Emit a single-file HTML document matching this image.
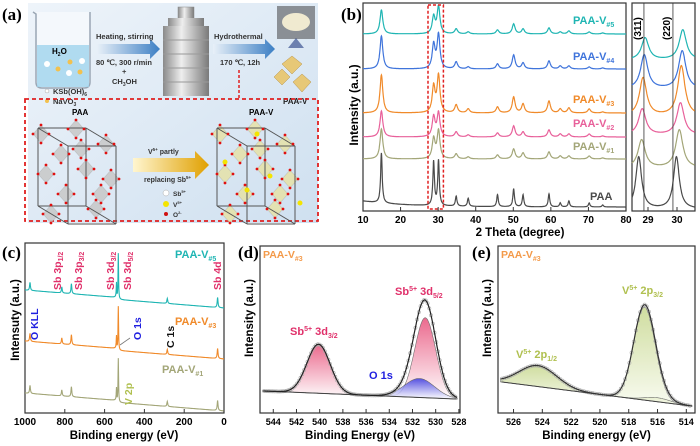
<!DOCTYPE html>
<html><head><meta charset="utf-8">
<style>
html,body{margin:0;padding:0;background:#fff;}
svg{display:block;font-family:"Liberation Sans",sans-serif;}
.t{font-family:"Liberation Sans",sans-serif;font-weight:bold;}
.pl{font-family:"Liberation Serif",serif;font-weight:bold;font-size:17px;}
</style></head>
<body>
<svg id="fig" width="700" height="446" viewBox="0 0 700 446" xmlns="http://www.w3.org/2000/svg">
<defs>
<linearGradient id="bg" x1="0" y1="0" x2="1" y2="1"><stop offset="0" stop-color="#eef4fa"/><stop offset="1" stop-color="#cfe0f0"/></linearGradient>
<linearGradient id="arr" x1="0" y1="0" x2="1" y2="0"><stop offset="0" stop-color="#e8f0f8"/><stop offset="1" stop-color="#3c7fc4"/></linearGradient>
<linearGradient id="garr" x1="0" y1="0" x2="1" y2="0"><stop offset="0" stop-color="#fff6d0"/><stop offset="1" stop-color="#e0a000"/></linearGradient>
<linearGradient id="pinkF" x1="0" y1="0" x2="0" y2="1"><stop offset="0" stop-color="#e8507a"/><stop offset="1" stop-color="#fff"/></linearGradient>
<linearGradient id="blueF" x1="0" y1="0" x2="0" y2="1"><stop offset="0" stop-color="#3a3ae0"/><stop offset="1" stop-color="#fff"/></linearGradient>
<linearGradient id="greenF" x1="0" y1="0" x2="0" y2="1"><stop offset="0" stop-color="#c8d890"/><stop offset="1" stop-color="#f8fbef"/></linearGradient>
<linearGradient id="metal" x1="0" y1="0" x2="1" y2="0"><stop offset="0" stop-color="#8a8a8a"/><stop offset="0.4" stop-color="#eeeeee"/><stop offset="1" stop-color="#7a7a7a"/></linearGradient>
</defs>

<g>
<text class="pl" x="2" y="20">(a)</text>
<rect x="28" y="3" width="290" height="220" fill="url(#bg)"/>
<g>
<path d="M33 12 L36 14 L36 82 Q36 88 42 88 L84 88 Q90 88 90 82 L90 12" fill="#f4f8fc" stroke="#9aa6b4" stroke-width="1.5"/>
<rect x="37" y="45" width="52" height="42" fill="#9fd3ec" opacity="0.8"/>
<text class="t" x="52" y="54" font-size="8">H<tspan font-size="5" dy="2">2</tspan><tspan dy="-2">O</tspan></text>
<circle cx="47" cy="64" r="3" fill="#fff"/><circle cx="70" cy="62" r="2.5" fill="#f2c14e"/><circle cx="82" cy="61" r="3" fill="#fff"/>
<circle cx="58" cy="69" r="2.5" fill="#f2c14e"/><circle cx="69" cy="73" r="3" fill="#fff"/><circle cx="80" cy="72" r="2.5" fill="#f2c14e"/>
</g>
<circle cx="47" cy="91" r="2" fill="#fff" stroke="#aaa" stroke-width="0.5"/>
<text class="t" x="53" y="94" font-size="7.5" fill="#333">KSb(OH)<tspan font-size="5" dy="2">6</tspan></text>
<circle cx="47" cy="101" r="2" fill="#f2c14e"/>
<text class="t" x="53" y="104" font-size="7.5" fill="#333">NaVO<tspan font-size="5" dy="2">3</tspan></text>
<polygon points="97,44 150,44 150,39 160,49 150,59 150,54 97,54" fill="url(#arr)"/>
<text class="t" x="96" y="39" font-size="7.5" fill="#333">Heating, stirring</text>
<text class="t" x="96" y="65" font-size="7.5" fill="#333">80 ℃, 300 r/min</text>
<text class="t" x="122" y="74" font-size="7.5" fill="#333">+</text>
<text class="t" x="112" y="84" font-size="7.5" fill="#333">CH<tspan font-size="5" dy="2">3</tspan><tspan dy="-2">OH</tspan></text>
<g>
<rect x="178" y="7" width="16" height="12" fill="url(#metal)" stroke="#888" stroke-width="0.5"/>
<rect x="168" y="18" width="36" height="8" fill="url(#metal)"/>
<rect x="163" y="26" width="46" height="70" fill="url(#metal)"/>
<g stroke="#999" stroke-width="1"><line x1="163" y1="40" x2="209" y2="40"/><line x1="163" y1="54" x2="209" y2="54"/><line x1="163" y1="68" x2="209" y2="68"/><line x1="163" y1="82" x2="209" y2="82"/></g>
</g>
<polygon points="213,44 265,44 265,39 275,49 265,59 265,54 213,54" fill="url(#arr)"/>
<text class="t" x="214" y="39" font-size="7.5" fill="#333">Hydrothermal</text>
<text class="t" x="220" y="65" font-size="7.5" fill="#333">170 ℃, 12h</text>
<line x1="239" y1="70" x2="239" y2="98" stroke="#e02020" stroke-width="1.5" stroke-dasharray="3,2"/>
<rect x="277" y="6" width="38" height="33" fill="#8a8f95"/>
<ellipse cx="296" cy="22" rx="14" ry="9" fill="#f0ead0"/>
<polygon points="288,48 296,38 304,48" fill="#223a80" opacity="0.6"/>
<g fill="#e7c877" stroke="#b8944a" stroke-width="0.5">
<polygon points="292,56 302,64 292,74 282,64"/><polygon points="282,69 290,77 282,85 274,77"/><polygon points="302,74 311,82 302,92 293,82"/>
</g>
<text class="t" x="283" y="104" font-size="8" fill="#222">PAA-V</text>
<rect x="25" y="99" width="293" height="122" fill="none" stroke="#e02020" stroke-width="1.8" stroke-dasharray="4,3"/>
<text class="t" x="72" y="115" font-size="8">PAA</text>
<text class="t" x="249" y="115" font-size="8">PAA-V</text>
<g id="crystal1"></g>
<g id="crystal2"></g>
<polygon points="133,158 195,158 195,151 209,165 195,179 195,172 133,172" fill="url(#garr)"/>
<text class="t" x="148" y="154" font-size="7" fill="#333">V<tspan font-size="4.5" dy="-3">5+</tspan><tspan dy="3"> partly</tspan></text>
<text class="t" x="144" y="182" font-size="7" fill="#333">replacing Sb<tspan font-size="4.5" dy="-3">5+</tspan></text>
<circle cx="166" cy="193" r="3" fill="#fff" stroke="#aaa" stroke-width="0.5"/>
<text class="t" x="173" y="196" font-size="6.5" fill="#333">Sb<tspan font-size="4" dy="-3">5+</tspan></text>
<circle cx="166" cy="204" r="3" fill="#f4e400"/>
<text class="t" x="173" y="207" font-size="6.5" fill="#333">V<tspan font-size="4" dy="-3">5+</tspan></text>
<circle cx="166" cy="214" r="2" fill="#d01010"/>
<text class="t" x="173" y="217" font-size="6.5" fill="#333">O<tspan font-size="4" dy="-3">2-</tspan></text>
</g>

<g>
<text class="pl" x="341" y="20">(b)</text>
<g id="xrdMain"></g>
<g id="xrdSide"></g>
</g>
<g>
<text class="pl" x="2" y="258">(c)</text>
<g id="xpsC"></g>
</g>
<g>
<text class="pl" x="238" y="258">(d)</text>
<g id="xpsD"></g>
</g>
<g>
<text class="pl" x="472" y="258">(e)</text>
<g id="xpsE"></g>
</g>
</svg>

<script>
var xrdPeakPos = [14.9, 28.8, 30.1, 34.8, 38.0, 45.8, 50.1, 52.6, 59.5, 62.5, 64.8, 70.2, 73.8];
var xrdSamples = ["PAA", "PAA-V#1", "PAA-V#2", "PAA-V#3", "PAA-V#4", "PAA-V#5"];
var xrdOffsets = [0, 48, 70, 94, 138, 173];
var xrdPAA  = [50, 44, 45, 10, 8, 12, 18, 12, 13, 4, 6, 4, 2];
var xrdV1   = [30, 20, 28, 5, 2, 4, 10, 6, 7, 3, 3, 3, 1];
var xrdV2   = [26, 20, 24, 5, 2, 4, 11, 5, 7, 3, 3, 3, 1];
var xrdV3   = [38, 26, 37, 8, 4, 6, 16, 9, 12, 4, 5, 4, 1];
var xrdV4   = [33, 24, 34, 7, 2, 5, 14, 6, 8, 3, 3, 2, 1];
var xrdV5   = [24, 17, 27, 5, 2, 4, 10, 5, 6, 2, 3, 2, 1];
var xrdXTicks = [10, 20, 30, 40, 50, 60, 70, 80];
var sideOffsets = [0, 41, 74, 93, 120, 149];
var side311 = [28.68, 28.78, 28.80, 28.83, 28.87, 28.90];
var side220 = [29.98, 30.08, 30.12, 30.15, 30.18, 30.20];
var sideH311 = [52, 28, 26, 38, 34, 22];
var sideH220 = [52, 38, 32, 50, 38, 30];
var sideXTicks = [29, 30];
var surveyEnergies = [975, 815, 767, 540, 531, 285, 32];
var surveyV5 = [8, 6, 10, 14, 46, 5, 10];
var surveyV3 = [8, 6, 10, 12, 44, 5, 10];
var surveyV1 = [8, 6, 10, 12, 44, 5, 10];
var surveyOffsets = [0, 51, 103];
var surveyXTicks = [1000, 800, 600, 400, 200, 0];
var dCenters = [540.1, 530.9, 531.4];
var dHeights = [49, 80, 19];
var dWidths = [1.0, 0.9, 1.3];
var dXTicks = [544, 542, 540, 538, 536, 534, 532, 530, 528];
var eCenters = [524.3, 516.9, 516.0];
var eHeights = [21, 93, 4];
var eWidths = [1.3, 0.75, 0.9];
var eXTicks = [526, 524, 522, 520, 518, 516, 514];

(function(){
var SVGNS = "http://www.w3.org/2000/svg";
function mk(parent, tag, attrs, txt){
  var el = document.createElementNS(SVGNS, tag);
  for (var k in attrs) el.setAttribute(k, attrs[k]);
  if (txt !== undefined) el.textContent = String(txt);
  parent.appendChild(el);
  return el;
}
function lor(x,c,w){ return 1/(1+Math.pow((x-c)/w,2)); }
function gau(x,c,w){ return Math.exp(-Math.pow((x-c)/w,2)/2); }
function sub(t, s, dy){ return mk(t,'tspan',{'font-size':7,dy:dy},s); }

try {
  function crystal(grp, ox, oy, tint){
    var cell=[[0,0],[48,0],[78,18],[30,18]], H=78;
    var oct=[[5,10],[40,5],[70,20],[25,30],[10,50],[50,45],[75,55],[30,70],[60,85],[15,90],[45,25],[65,70]];
    oct.forEach(function(p){ var x=ox+p[0], y=oy+p[1];
      mk(grp,'polygon',{points:x+','+(y-9)+' '+(x+8)+','+y+' '+x+','+(y+9)+' '+(x-8)+','+y,fill:tint,stroke:'#999','stroke-width':0.4,opacity:0.85});});
    var pts=cell.map(function(p){return [ox+p[0]+2,oy+p[1]+4];});
    for(var i=0;i<4;i++){ var a=pts[i], b=pts[(i+1)%4];
      mk(grp,'line',{x1:a[0],y1:a[1],x2:b[0],y2:b[1],stroke:'#555','stroke-width':1});
      mk(grp,'line',{x1:a[0],y1:a[1]+H,x2:b[0],y2:b[1]+H,stroke:'#555','stroke-width':1});
      mk(grp,'line',{x1:a[0],y1:a[1],x2:a[0],y2:a[1]+H,stroke:'#555','stroke-width':1});}
    oct.forEach(function(p){ var x=ox+p[0], y=oy+p[1];
      [[0,-9],[8,0],[0,9],[-8,0]].forEach(function(d){ mk(grp,'circle',{cx:x+d[0],cy:y+d[1],r:1.4,fill:'#e01010'}); });});
  }
  crystal(document.getElementById('crystal1'),36,124,'#c8c8c8');
  crystal(document.getElementById('crystal2'),215,124,'#e6e2a8');
  [[257,134],[225,162],[247,190],[300,203],[270,176]].forEach(function(p){ mk(document.getElementById('crystal2'),'circle',{cx:p[0],cy:p[1],r:2.5,fill:'#f4e400'}); });
} catch(err) { console.log(err); }

var xrdColors=["#4a4a4a","#a3a678","#e8609a","#f08a2a","#3f74db","#1fb5b3"];
var xrdSeries=[xrdPAA,xrdV1,xrdV2,xrdV3,xrdV4,xrdV5];
var by0=3, by1=211;

try {
  var bx0=363,bx1=626;
  var xS=function(v){return bx0+(v-10)/(80-10)*(bx1-bx0);};
  var gm=document.getElementById('xrdMain');
  var fr=mk(gm,'rect',{x:bx0,y:by0,width:bx1-bx0,height:by1-by0,fill:'none',stroke:'#333','stroke-width':1.2});
  
  xrdSeries.forEach(function(s,i){
    var d='', w=(i===0?0.25:0.45);
    for(var x=10;x<=80;x+=0.05){
      var y=by1-4-xrdOffsets[i];
      if(i===0) y-=6*Math.exp(-(x-10)/12);
      for(var k=0;k<xrdPeakPos.length;k++) y-=s[k]*lor(x,xrdPeakPos[k],w);
      d+=(d?'L':'M')+xS(x).toFixed(1)+' '+y.toFixed(1);
    }
    var pth=mk(gm,'path',{d:d,fill:'none',stroke:xrdColors[i],'stroke-width':1.2});
    
    
  });
  var lblY=[200,150,127,103,60,24], lblX=[590,573,573,573,573,573];
  xrdSamples.forEach(function(n,i){
    var parts=n.split('#');
    var tx=mk(gm,'text',{x:lblX[i],y:lblY[i],'font-size':11,'font-weight':'bold',fill:xrdColors[i]},parts[0]);
    
    
    if(parts[1]) sub(tx,'#'+parts[1],3);
  });
  mk(gm,'rect',{x:xS(27.3),y:5,width:xS(31.4)-xS(27.3),height:204,fill:'none',stroke:'#e02020','stroke-width':1.5,'stroke-dasharray':'3,2'});
  xrdXTicks.forEach(function(v){
    mk(gm,'line',{x1:xS(v),y1:by1,x2:xS(v),y2:by1-4,stroke:'#333'});
    var tk=mk(gm,'text',{x:xS(v),y:223,'font-size':10,'font-weight':'bold','text-anchor':'middle'},v);
    
    
  });
  var xt=mk(gm,'text',{x:520,y:236,'font-size':11.5,'font-weight':'bold','text-anchor':'middle'},'2 Theta (degree)');
  
  var yt=mk(gm,'text',{x:0,y:0,'font-size':12,'font-weight':'bold','text-anchor':'middle',transform:'translate(358,105) rotate(-90)'},'Intensity (a.u.)');
  
} catch(err) { console.log(err); }

try {
  var gs=document.getElementById('xrdSide');
  var sx0=632,sx1=695;
  var sX=function(v){return 648+(v-29)*29;};
  mk(gs,'rect',{x:sx0,y:by0,width:sx1-sx0,height:by1-by0,fill:'none',stroke:'#333','stroke-width':1.2});
  xrdSeries.forEach(function(s,i){
    var d='', w=(i>0?0.15:0.12);
    for(var x=28.45;x<=30.62;x+=0.01){
      var y=by1-2-sideOffsets[i]-sideH311[i]*lor(x,side311[i],w)-sideH220[i]*lor(x,side220[i],w);
      d+=(d?'L':'M')+sX(x).toFixed(1)+' '+y.toFixed(1);
    }
    var p=mk(gs,'path',{d:d,fill:'none',stroke:xrdColors[i],'stroke-width':1.2});
    
    
  });
  mk(gs,'line',{x1:sX(28.86),y1:by0,x2:sX(28.86),y2:by1,stroke:'#333','stroke-width':0.8});
  mk(gs,'line',{x1:sX(29.86),y1:by0,x2:sX(29.86),y2:by1,stroke:'#333','stroke-width':0.8});
  mk(gs,'text',{x:0,y:0,'font-size':10,'font-weight':'bold',transform:'translate('+(sX(28.86)-3)+',40) rotate(-90)'},'(311)');
  mk(gs,'text',{x:0,y:0,'font-size':10,'font-weight':'bold',transform:'translate('+(sX(29.86)-3)+',40) rotate(-90)'},'(220)');
  sideXTicks.forEach(function(v){
    mk(gs,'line',{x1:sX(v),y1:by1,x2:sX(v),y2:by1-4,stroke:'#333'});
    mk(gs,'text',{x:sX(v),y:223,'font-size':10,'font-weight':'bold','text-anchor':'middle'},v);
  });
} catch(err) { console.log(err); }

function vt(par,txt,x,y,col,s){
  var tx=mk(par,'text',{x:0,y:0,'font-size':10.5,'font-weight':'bold',fill:col,transform:'translate('+x+','+y+') rotate(-90)'},txt);
  if(s) mk(tx,'tspan',{'font-size':7,dy:2},s);
  return tx;
}

try {
  var gc=document.getElementById('xpsC');
  var cx0=25,cx1=224,cy0=243,cy1=413;
  var cX=function(v){return cx0+(1000-v)/1000*(cx1-cx0);};
  mk(gc,'rect',{x:cx0,y:cy0,width:cx1-cx0,height:cy1-cy0,fill:'none',stroke:'#333','stroke-width':1.2});
  var sCols=["#1fb5b3","#f08a2a","#a3a678"], sSer=[surveyV5,surveyV3,surveyV1];
  sSer.forEach(function(s,i){
    var d='';
    for(var en=1000;en>=0;en-=1){
      var y=290+surveyOffsets[i]+(1000-en)/1000*16;
      if(en<540) y+=2;
      for(var k=0;k<surveyEnergies.length;k++){ var c=surveyEnergies[k]; y-=s[k]*lor(en,c,(c>500&&c<545)?1.6:2.5); }
      d+=(d?'L':'M')+cX(en).toFixed(1)+' '+y.toFixed(1);
    }
    var p=mk(gc,'path',{d:d,fill:'none',stroke:sCols[i],'stroke-width':1.1});
    
    
  });
  [['PAA-V','#5',175,258,"#1fb5b3"],['PAA-V','#3',175,325,"#f08a2a"],['PAA-V','#1',162,373,"#a3a678"]].forEach(function(a){
    var tx=mk(gc,'text',{x:a[2],y:a[3],'font-size':11,'font-weight':'bold',fill:a[4]},a[0]);
    sub(tx,a[1],3);
  });
  vt(gc,'Sb 3p',61,290,'#e0306a','1/2');
  vt(gc,'Sb 3p',82,290,'#e0306a','3/2');
  vt(gc,'Sb 3d',114,290,'#e0306a','3/2');
  vt(gc,'Sb 3d',131,290,'#e0306a','5/2');
  vt(gc,'Sb 4d',221,290,'#e0306a');
  vt(gc,'O KLL',38,340,'#2020e0');
  vt(gc,'O 1s',141,340,'#2020e0');
  vt(gc,'C 1s',174,348,'#111');
  vt(gc,'V 2p',132,405,'#b0c050');
  mk(gc,'line',{x1:120,y1:345,x2:130,y2:338,stroke:'#777','stroke-width':0.8});
  surveyXTicks.forEach(function(v){
    mk(gc,'line',{x1:cX(v),y1:cy1,x2:cX(v),y2:cy1-4,stroke:'#333'});
    mk(gc,'text',{x:cX(v),y:425,'font-size':10,'font-weight':'bold','text-anchor':'middle'},v);
  });
  mk(gc,'text',{x:124,y:439,'font-size':11.5,'font-weight':'bold','text-anchor':'middle'},'Binding energy (eV)');
  mk(gc,'text',{x:0,y:0,'font-size':11.5,'font-weight':'bold','text-anchor':'middle',transform:'translate(19,320) rotate(-90)'},'Intensuty (a.u.)');
} catch(err) { console.log(err); }

function hrPanel(id,x0,x1,eHi,pxPerEv,centers,heights,widths,fills,baseL,baseR,ticks,title,fitCol){
  var gg=document.getElementById(id);
  var y0=246,y1=413;
  var X=function(en){return x0+4+(eHi-en)*pxPerEv;};
  var eLo=eHi-(x1-x0-8)/pxPerEv;
  var base=function(en){return baseL+(baseR-baseL)*(eHi-en)/(eHi-eLo);};
  var total=function(en){ var y=base(en); for(var k=0;k<centers.length;k++) y-=heights[k]*gau(en,centers[k],widths[k]); return y; };
  mk(gg,'rect',{x:x0,y:y0,width:x1-x0,height:y1-y0,fill:'none',stroke:'#333','stroke-width':1.2});
  centers.forEach(function(c,k){
    var d='';
    for(var en=eHi+0.1;en>=eLo-0.1;en-=0.05){ var y=base(en)-heights[k]*gau(en,c,widths[k]); d+=(d?'L':'M')+X(en).toFixed(1)+' '+y.toFixed(1);}
    d+='L'+X(eLo-0.1).toFixed(1)+' '+base(eLo-0.1).toFixed(1)+'L'+X(eHi+0.1).toFixed(1)+' '+base(eHi+0.1).toFixed(1)+'Z';
    var p=mk(gg,'path',{d:d,fill:fills[k],stroke:'#555','stroke-width':0.6,opacity:0.85});
    
    
  });
  for(var en=eHi;en>=eLo;en-=0.15){ mk(gg,'circle',{cx:X(en).toFixed(1),cy:total(en).toFixed(1),r:1.6,fill:'none',stroke:'#aaa','stroke-width':0.6}); }
  var d2='';
  for(var e2=eHi+0.1;e2>=eLo-0.1;e2-=0.05){ d2+=(d2?'L':'M')+X(e2).toFixed(1)+' '+total(e2).toFixed(1); }
  mk(gg,'line',{x1:X(eHi),y1:base(eHi),x2:X(eLo),y2:base(eLo),stroke:'#444','stroke-width':1});
  var env=mk(gg,'path',{d:d2,fill:'none',stroke:fitCol,'stroke-width':1.2});
  
  
  ticks.forEach(function(v){
    mk(gg,'line',{x1:X(v),y1:y1,x2:X(v),y2:y1-4,stroke:'#333'});
    mk(gg,'text',{x:X(v),y:425,'font-size':9,'font-weight':'bold','text-anchor':'middle'},v);
  });
  mk(gg,'text',{x:(x0+x1)/2,y:439,'font-size':11.5,'font-weight':'bold','text-anchor':'middle'},title);
  mk(gg,'text',{x:0,y:0,'font-size':11.5,'font-weight':'bold','text-anchor':'middle',transform:'translate('+(x0-7)+',318) rotate(-90)'},'Intensity (a.u.)');
  var tx=mk(gg,'text',{x:x0+3,y:258,'font-size':10.5,'font-weight':'bold',fill:'#f39a4a'},'PAA-V');
  sub(tx,'#3',3);
}
function lab(par,x,y,col,a,sup,b,s){
  var tx=mk(par,'text',{x:x,y:y,'font-size':11,'font-weight':'bold',fill:col},a);
  mk(tx,'tspan',{'font-size':7,dy:-4},sup);
  mk(tx,'tspan',{dy:4},b);
  mk(tx,'tspan',{'font-size':7,dy:3},s);
}
try {
  hrPanel('xpsD',260,460,544.8,11.6,dCenters,dHeights,dWidths,['url(#pinkF)','url(#pinkF)','url(#blueF)'],391,399,dXTicks,'Binding Energy (eV)','#222');
  var gd=document.getElementById('xpsD');
  lab(gd,290,335,'#e0306a','Sb','5+',' 3d','3/2');
  lab(gd,395,295,'#e0306a','Sb','5+',' 3d','5/2');
  mk(gd,'text',{x:369,y:379,'font-size':11,'font-weight':'bold',fill:'#2020e0'},'O 1s');
} catch(err) { console.log(err); }
try {
  hrPanel('xpsE',498,695,526.8,14.4,eCenters,eHeights,eWidths,['url(#greenF)','url(#greenF)','url(#greenF)'],382,406,eXTicks,'Binding energy (eV)','#333');
  var ge=document.getElementById('xpsE');
  lab(ge,622,294,'#b0c050','V','5+',' 2p','3/2');
  lab(ge,516,358,'#b0c050','V','5+',' 2p','1/2');
} catch(err) { console.log(err); }
})();
</script>
</body></html>
